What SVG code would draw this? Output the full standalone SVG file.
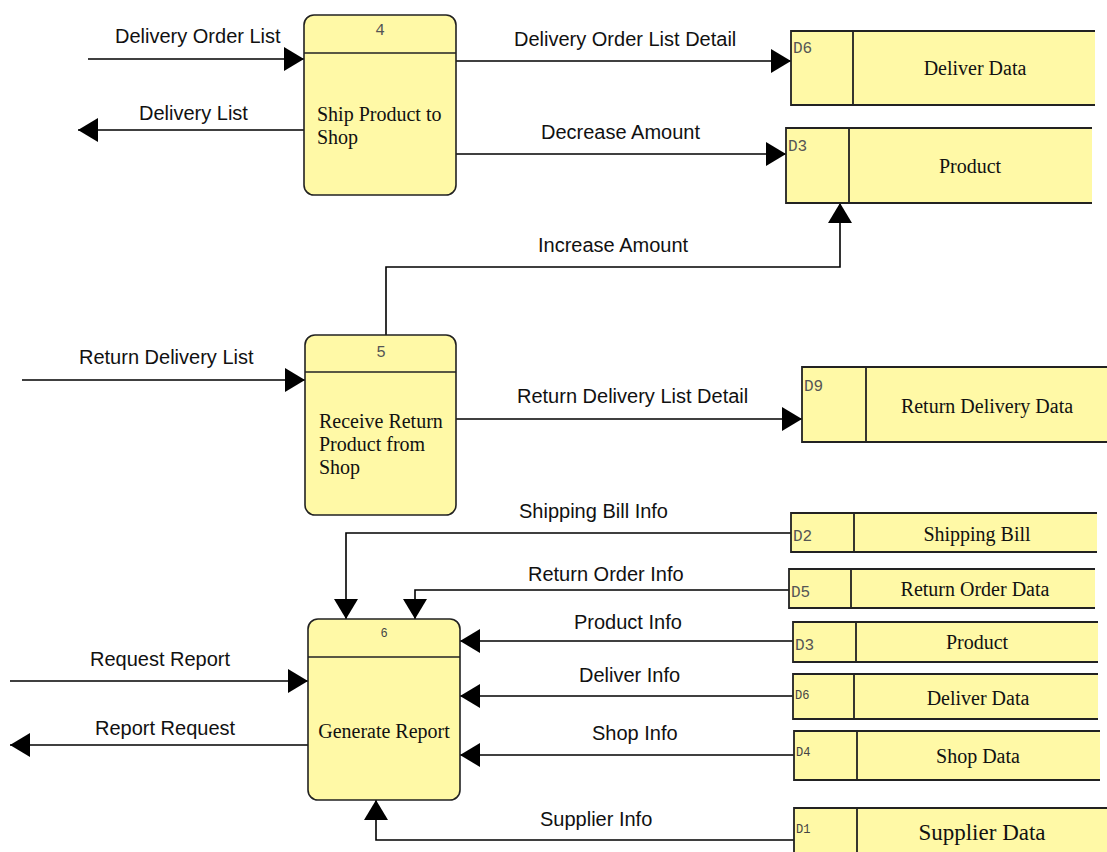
<svg xmlns="http://www.w3.org/2000/svg" width="1107" height="852" viewBox="0 0 1107 852">
<defs>
<marker id="arr" viewBox="0 0 20 24" refX="20" refY="12" markerWidth="20" markerHeight="24" markerUnits="userSpaceOnUse" orient="auto">
<path d="M0,0 L20,12 L0,24 Z" fill="#000"/>
</marker>
<style>
.proc{fill:#FFF9A6;stroke:#222;stroke-width:1.6}
.ds{fill:#FFF9A6;stroke:none}
.dsl{fill:none;stroke:#222;stroke-width:1.8}
.hdr{stroke:#222;stroke-width:1.6}
.num{font-family:"Liberation Mono",monospace;font-size:16px;fill:#555}
.did{font-family:"Liberation Mono",monospace;font-size:16px;fill:#555}
.dids{font-family:"Liberation Mono",monospace;font-size:12px;fill:#444}
.ptxt{font-family:"Liberation Serif",serif;font-size:20px;fill:#111}
.dtxt{font-family:"Liberation Serif",serif;font-size:20px;fill:#111;text-anchor:middle}
.lbl{font-family:"Liberation Sans",Arial,sans-serif;font-size:20px;fill:#111}
.flow{fill:none;stroke:#000;stroke-width:1.6;marker-end:url(#arr)}
</style>
</defs>
<rect width="1107" height="852" fill="#fff"/>

<g id="connectors">
<path class="flow" d="M88,59 H304"/>
<text class="lbl" x="115" y="43">Delivery Order List</text>
<path class="flow" d="M304,130 H78"/>
<text class="lbl" x="139" y="120">Delivery List</text>
<path class="flow" d="M456,61 H791"/>
<text class="lbl" x="514" y="46">Delivery Order List Detail</text>
<path class="flow" d="M456,154 H786"/>
<text class="lbl" x="541" y="139">Decrease Amount</text>
<path class="flow" d="M386,335 V267 H840 V203"/>
<text class="lbl" x="538" y="252">Increase Amount</text>
<path class="flow" d="M22,380 H305"/>
<text class="lbl" x="79" y="364">Return Delivery List</text>
<path class="flow" d="M456,419 H802"/>
<text class="lbl" x="517" y="403">Return Delivery List Detail</text>
<path class="flow" d="M791,533 H346 V619"/>
<text class="lbl" x="519" y="518">Shipping Bill Info</text>
<path class="flow" d="M789,590 H415 V619"/>
<text class="lbl" x="528" y="581">Return Order Info</text>
<path class="flow" d="M793,641 H460"/>
<text class="lbl" x="574" y="629">Product Info</text>
<path class="flow" d="M793,696 H460"/>
<text class="lbl" x="579" y="682">Deliver Info</text>
<path class="flow" d="M794,755 H460"/>
<text class="lbl" x="592" y="740">Shop Info</text>
<path class="flow" d="M794,840 H376 V800"/>
<text class="lbl" x="540" y="826">Supplier Info</text>
<path class="flow" d="M10,681 H308"/>
<text class="lbl" x="90" y="666">Request Report</text>
<path class="flow" d="M308,745 H10"/>
<text class="lbl" x="95" y="735">Report Request</text>
</g>

<g id="p4">
<rect class="proc" x="304" y="15" width="152" height="180" rx="10"/>
<line class="hdr" x1="304" y1="53" x2="456" y2="53"/>
<text class="num" x="380" y="35" text-anchor="middle">4</text>
<text class="ptxt" x="317" y="121">Ship Product to</text>
<text class="ptxt" x="317" y="144">Shop</text>
</g>

<g id="p5">
<rect class="proc" x="305" y="335" width="151" height="180" rx="10"/>
<line class="hdr" x1="305" y1="372" x2="456" y2="372"/>
<text class="num" x="381" y="357" text-anchor="middle">5</text>
<text class="ptxt" x="319" y="428">Receive Return</text>
<text class="ptxt" x="319" y="451">Product from</text>
<text class="ptxt" x="319" y="474">Shop</text>
</g>

<g id="p6">
<rect class="proc" x="308" y="619" width="152" height="181" rx="10"/>
<line class="hdr" x1="308" y1="657" x2="460" y2="657"/>
<text class="dids" x="384" y="637" text-anchor="middle">6</text>
<text class="ptxt" x="384" y="738" text-anchor="middle">Generate Report</text>
</g>

<g id="d6a">
<rect class="ds" x="791" y="31" width="304" height="74"/>
<path class="dsl" d="M1095,31 H791 V105 H1095 M853,31 V105"/>
<text class="did" x="793" y="53">D6</text>
<text class="dtxt" x="975" y="75">Deliver Data</text>
</g>

<g id="d3a">
<rect class="ds" x="786" y="128" width="306" height="75"/>
<path class="dsl" d="M1092,128 H786 V203 H1092 M849,128 V203"/>
<text class="did" x="788" y="151">D3</text>
<text class="dtxt" x="970" y="173">Product</text>
</g>

<g id="d9">
<rect class="ds" x="802" y="367" width="305" height="75"/>
<path class="dsl" d="M1107,367 H802 V442 H1107 M866,367 V442"/>
<text class="did" x="804" y="391">D9</text>
<text class="dtxt" x="987" y="413">Return Delivery Data</text>
</g>

<g id="d2">
<rect class="ds" x="791" y="513" width="306" height="39"/>
<path class="dsl" d="M1097,513 H791 V552 H1097 M854,513 V552"/>
<text class="did" x="793" y="541">D2</text>
<text class="dtxt" x="977" y="541">Shipping Bill</text>
</g>

<g id="d5">
<rect class="ds" x="789" y="569" width="306" height="39"/>
<path class="dsl" d="M1095,569 H789 V608 H1095 M851,569 V608"/>
<text class="did" x="791" y="597">D5</text>
<text class="dtxt" x="975" y="596">Return Order Data</text>
</g>

<g id="d3b">
<rect class="ds" x="793" y="622" width="305" height="40"/>
<path class="dsl" d="M1098,622 H793 V662 H1098 M856,622 V662"/>
<text class="did" x="795" y="650">D3</text>
<text class="dtxt" x="977" y="649">Product</text>
</g>

<g id="d6b">
<rect class="ds" x="793" y="674" width="305" height="45"/>
<path class="dsl" d="M1098,674 H793 V719 H1098 M854,674 V719"/>
<text class="dids" x="795" y="699">D6</text>
<text class="dtxt" x="978" y="705">Deliver Data</text>
</g>

<g id="d4">
<rect class="ds" x="794" y="731" width="306" height="49"/>
<path class="dsl" d="M1100,731 H794 V780 H1100 M857,731 V780"/>
<text class="dids" x="796" y="756">D4</text>
<text class="dtxt" x="978" y="763">Shop Data</text>
</g>

<g id="d1">
<rect class="ds" x="794" y="808" width="313" height="50"/>
<path class="dsl" d="M1107,808 H794 V858 M857,808 V858"/>
<text class="dids" x="796" y="833">D1</text>
<text class="dtxt" x="982" y="840" style="font-size:23px">Supplier Data</text>
</g>
</svg>
